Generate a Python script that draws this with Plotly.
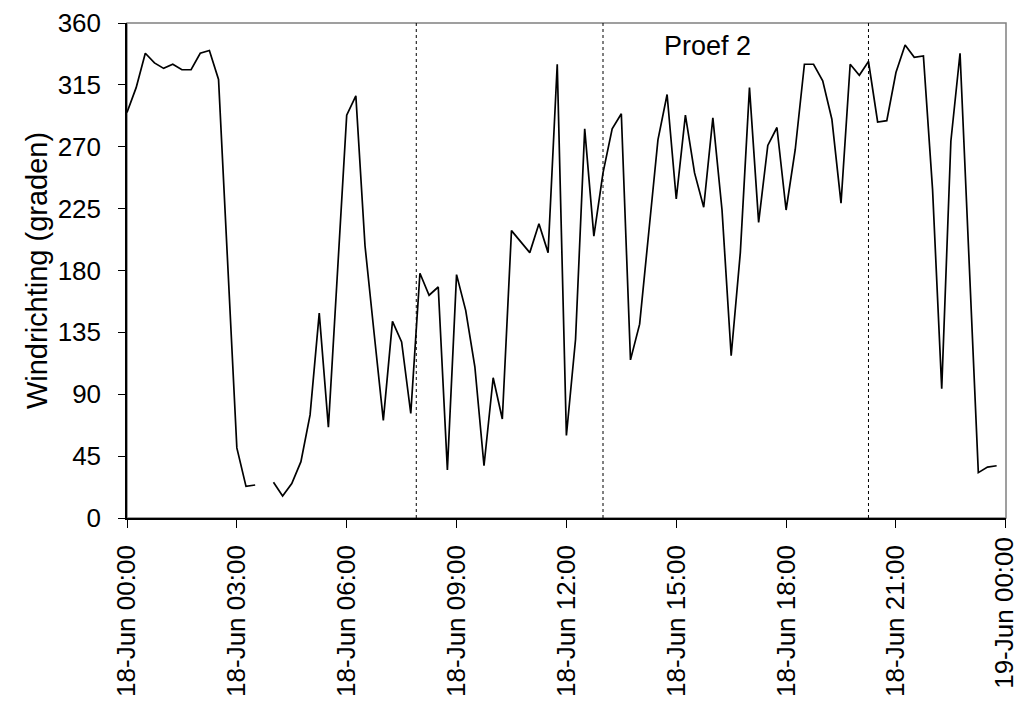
import pandas as pd
import plotly.graph_objects as go

# Wind direction (degrees), 15-minute readings on 18 June
times = pd.date_range("2008-06-18 00:00", periods=96, freq="15min")
wind_dir = [
    295, 313, 338, 331, 327, 330, 326, 326, 338, 340, 319, 185,
    51, 23, 24, None, 26, 16, 25, 41, 75, 149, 66, 180,
    293, 307, 198, 134, 71, 143, 128, 76, 178, 162, 168, 35,
    177, 151, 110, 38, 102, 72, 209, 201, 193, 214, 193, 330,
    60, 130, 283, 205, 251, 283, 294, 115, 141, 208, 275, 308,
    232, 293, 251, 226, 291, 224, 118, 193, 313, 215, 271, 284,
    224, 268, 330, 330, 318, 290, 229, 330, 322, 332, 288, 289,
    324, 344, 335, 336, 239, 94, 274, 338, 186, 33, 37, 38,
]

# Boundaries of the trial periods and the label of the second trial
period_marks = ["2008-06-18 07:54", "2008-06-18 13:00", "2008-06-18 20:15"]
trial_label = "Proef 2"
trial_label_time = "2008-06-18 15:52"
trial_label_value = 343

y_ticks = list(range(0, 361, 45))
x_ticks = pd.date_range("2008-06-18 00:00", "2008-06-19 00:00", freq="3h")
x_tick_text = [t.strftime("%d-%b %H:%M") for t in x_ticks]
x_start, x_end = "2008-06-18 00:00", "2008-06-19 00:00:20"

FONT = "Liberation Sans, Arial, sans-serif"
TICK_SIZE = 26

fig = go.Figure()
fig.add_trace(go.Scatter(
    x=times, y=wind_dir, mode="lines",
    line=dict(color="black", width=1.7),
    connectgaps=False, showlegend=False,
))

for t in period_marks:
    fig.add_shape(type="line", xref="x", yref="paper", x0=t, x1=t, y0=0, y1=1,
                  line=dict(color="black", width=1, dash="dot"))

# Plot frame (grey top/right border)
fig.add_shape(type="rect", xref="paper", yref="paper", x0=0, x1=1, y0=0, y1=1,
              line=dict(color="#808080", width=1.5), layer="below")

fig.add_annotation(x=trial_label_time, y=trial_label_value, xref="x", yref="y",
                   text=trial_label, showarrow=False,
                   font=dict(family=FONT, size=27, color="black"))

# The label of the closing tick sits on the right edge of the axis; it is
# written as a rotated annotation so it is not dropped at the range end.
last_tick = x_ticks[-1]
axis_tick_text = x_tick_text[:-1] + [""]
fig.add_annotation(x=last_tick, y=0, xref="x", yref="paper",
                   text=x_tick_text[-1], textangle=-90, showarrow=False,
                   xanchor="center", yanchor="top", yshift=-18, xshift=-2,
                   borderpad=0,
                   font=dict(family=FONT, size=TICK_SIZE, color="black"))

fig.update_layout(
    width=1019, height=704,
    margin=dict(l=127, r=13, t=23, b=186),
    paper_bgcolor="white", plot_bgcolor="white",
    font=dict(family=FONT, color="black"),
)
fig.update_xaxes(
    type="date", range=[x_start, x_end],
    tickvals=x_ticks, ticktext=axis_tick_text, tickangle=-90,
    ticks="outside", ticklen=8, tickcolor="black", tickwidth=1,
    showline=True, linecolor="black", linewidth=1.5,
    showgrid=False, zeroline=False, automargin=False,
    tickfont=dict(family=FONT, size=TICK_SIZE, color="black"),
    ticklabelstandoff=7,
)
fig.update_yaxes(
    range=[0, 360], tickvals=y_ticks,
    ticks="outside", ticklen=7, tickcolor="black", tickwidth=1,
    showline=True, linecolor="black", linewidth=1.5,
    showgrid=False, zeroline=False, automargin=False,
    tickfont=dict(family=FONT, size=TICK_SIZE, color="black"),
    ticklabelstandoff=12,
    title=dict(text="Windrichting (graden)", font=dict(family=FONT, size=29, color="black"),
               standoff=2),
)

fig.write_html("out.html")
